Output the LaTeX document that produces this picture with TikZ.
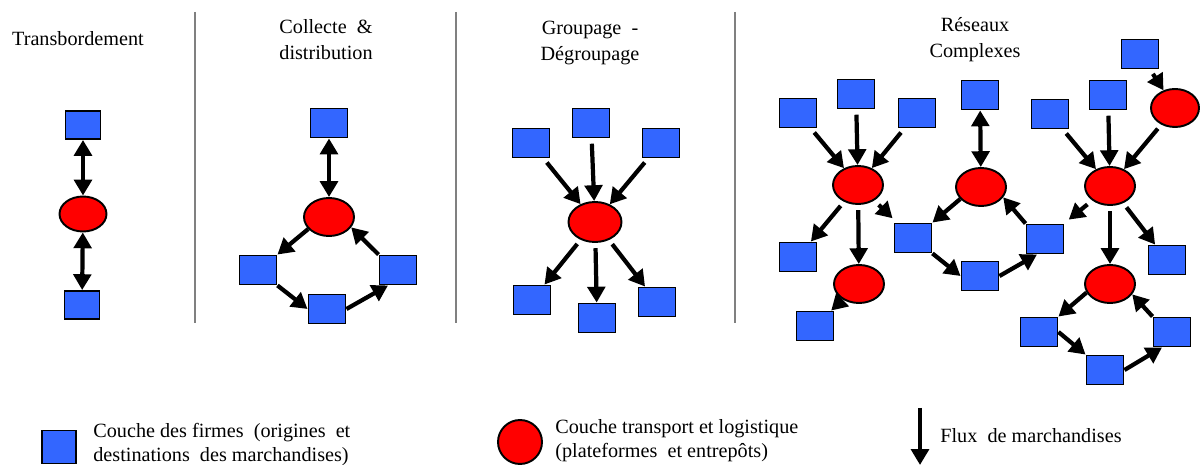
\documentclass[tikz,border=0pt]{standalone}
\usepackage{fontspec}
\setmainfont{Liberation Serif}
\usetikzlibrary{arrows.meta,shapes.geometric}

\definecolor{firmblue}{RGB}{51,102,255}
\definecolor{hubred}{RGB}{255,0,0}

\begin{document}
\begin{tikzpicture}[
            x=0.02cm, y=-0.02cm,
            firm/.style={draw=black, line width=1.1pt, fill=firmblue,
            minimum width=0.74cm, minimum height=0.58cm, inner sep=0pt},
            hub/.style={ellipse, draw=black, line width=1.1pt, fill=hubred,
            minimum width=1.0cm, minimum height=0.76cm, inner sep=0pt},
            flow/.style={line width=2.4pt, -{Triangle[length=9pt,width=10pt]}},
            feed/.style={flow, shorten <=3pt},
            skip/.style={flow, shorten <=3.5pt, shorten >=3.5pt},
            link/.style={line width=2.4pt,
            {Triangle[length=9pt,width=10pt]}-{Triangle[length=9pt,width=10pt]}},
            separator/.style={line width=1.2pt, color=gray},
            title/.style={font=\fontsize{11.5}{15}\selectfont, align=center, anchor=base, inner sep=0pt},
            key text/.style={font=\fontsize{11.5}{14.2}\selectfont, align=left, anchor=base west, inner sep=0pt}
            ]

            \useasboundingbox (0,0) rectangle (1200,465);

            % separators
            \draw[separator] (195,12) -- (195,323);
            \draw[separator] (456,12) -- (456,323);
            \draw[separator] (735,12) -- (735,323);

            % titles
            \node[title] (ttrans) at (78,46) {Transbordement};
            \node[title] (tcoll) at (326,60) {Collecte \ \&\\distribution};
            \node[title] (tgroup) at (590,61) {Groupage \ -\\Dégroupage};
            \node[title] (tcomplex) at (975,58) {Réseaux\\Complexes};

            % transbordement
            \node[firm, minimum width=0.7cm, minimum height=0.56cm] (tf1) at (83,125) {};
            \node[hub, minimum width=0.94cm, minimum height=0.7cm] (th) at (83,214) {};
            \node[firm, minimum width=0.7cm, minimum height=0.56cm] (tf2) at (82,305) {};
            \draw[link] (tf1) -- (th);
            \draw[link] (th) -- (tf2);

            % collecte & distribution
            \node[firm] (cf1) at (329,123) {};
            \node[hub] (ch) at (329,217) {};
            \node[firm] (cf2) at (258,270) {};
            \node[firm] (cf3) at (327,309) {};
            \node[firm] (cf4) at (398,270) {};
            \draw[link] (cf1) -- (ch);
            \draw[flow] (ch.-150) -- (cf2.north east);
            \draw[flow] (cf2.south east) -- (cf3.west);
            \draw[flow] (cf3.east) -- ([xshift=-0.2cm]cf4.south);
            \draw[flow] (cf4.north west) -- (ch.-25);

            % groupage - degroupage
            \node[firm] (gf1) at (531,143) {};
            \node[firm] (gf2) at (591,123) {};
            \node[firm] (gf3) at (661,143) {};
            \node[hub, minimum width=1.06cm, minimum height=0.8cm] (gh) at (595,222) {};
            \node[firm] (gf4) at (532,300) {};
            \node[firm] (gf5) at (597,318) {};
            \node[firm] (gf6) at (657,302) {};
            \foreach \f in {gf1,gf2,gf3} \draw[feed] (\f) -- (gh);
            \foreach \f in {gf4,gf5,gf6} \draw[feed] (gh) -- (\f);

            % reseaux complexes
            \node[firm] (rf1) at (798,113) {};
            \node[firm] (rf2) at (856,94) {};
            \node[firm] (rf3) at (917,113) {};
            \node[hub] (rh1) at (858,185) {};
            \node[firm] (rf4) at (798,257) {};
            \node[hub] (rh2) at (859,284) {};
            \node[firm] (rf5) at (815,326) {};
            \node[firm] (rf6) at (913,238) {};
            \node[firm] (rf7) at (980,95) {};
            \node[hub] (rh3) at (981,187) {};
            \node[firm] (rf8) at (980,276) {};
            \node[firm] (rf9) at (1045,239) {};
            \node[firm] (rf10) at (1050,114) {};
            \node[firm] (rf11) at (1108,95) {};
            \node[firm] (rf12) at (1140,54) {};
            \node[hub, minimum width=0.96cm] (rh4) at (1175,108) {};
            \node[hub] (rh5) at (1110,186) {};
            \node[firm] (rf13) at (1167,260) {};
            \node[hub] (rh6) at (1110,284) {};
            \node[firm] (rf14) at (1039,332) {};
            \node[firm] (rf15) at (1105,370) {};
            \node[firm] (rf16) at (1172,332) {};

            \foreach \f in {rf1,rf2,rf3} \draw[feed] (\f) -- (rh1);
            \draw[feed] (rh1) -- (rf4);
            \draw[feed] (rh1) -- (rh2);
            \draw[skip] (rh1) -- (rf6);
            \draw[feed] (rh2) -- (rf5);

            \draw[link] (rf7) -- (rh3);
            \draw[flow] (rh3.-150) -- (rf6.north east);
            \draw[flow] (rf6.south east) -- (rf8.west);
            \draw[flow] (rf8.east) -- ([xshift=-0.16cm]rf9.south);
            \draw[flow] (rf9.north west) -- (rh3.-25);

            \foreach \f in {rf10,rf11,rh4} \draw[feed] (\f) -- (rh5);
            \draw[feed] (rf12) -- (rh4);
            \draw[skip] (rh5) -- (rf9);
            \draw[feed] (rh5) -- (rh6);
            \draw[feed] (rh5) -- (rf13);
            \draw[flow] (rh6.-160) -- (rf14.north east);
            \draw[flow] (rf14.east) -- (rf15.north west);
            \draw[flow] (rf15.east) -- ([xshift=-0.2cm]rf16.south);
            \draw[flow] (rf16.north west) -- (rh6.-25);

            % legend
            \node[firm, minimum width=0.68cm, minimum height=0.66cm] (keyfirm) at (59,447) {};
            \node[key text] (keyfirmtext) at (93,462)
                {Couche des firmes \ (origines \ et\\destinations \ des marchandises)};
            \node[hub, minimum width=0.88cm, minimum height=0.88cm] (keyhub) at (520,442) {};
            \node[key text] (keyhubtext) at (555,458)
                {Couche transport et logistique\\(plateformes \ et entrepôts)};
            \coordinate (keytop) at (920,408);
            \coordinate (keybot) at (920,465);
            \draw[flow] (keytop) -- (keybot);
            \node[key text] (keyflowtext) at (940,443) {Flux \ de marchandises};

        \end{tikzpicture}
\end{document}
